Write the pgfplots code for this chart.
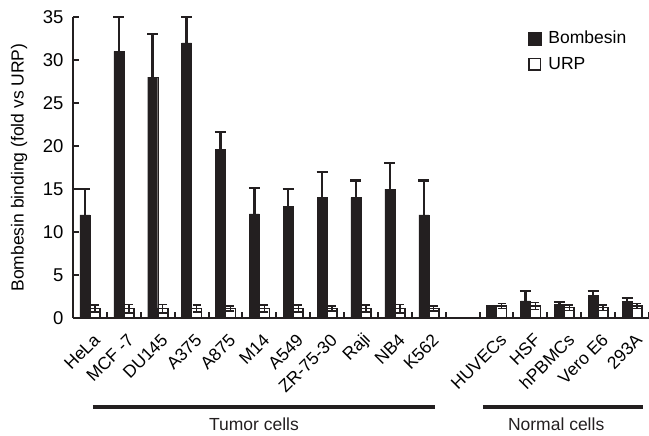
\documentclass[border=0pt]{standalone}
\usepackage{pgfplots}
\pgfplotsset{compat=1.18}
\usepackage{pgfplotstable}
\usepackage{fontspec}
\setmainfont{Liberation Sans}
\definecolor{ink}{RGB}{35,31,32}

\pgfplotsset{
  filledsq/.style={legend image code/.code={\fill[ink] (0pt,-6.5pt) rectangle (13pt,6.5pt); \path[draw=none, fill=none] (0pt,0pt) -- (18pt,0pt);}},
  opensq/.style={legend image code/.code={\draw[ink, line width=1.2pt] (0.6pt,-5.9pt) rectangle (12.4pt,5.9pt); \path[draw=none, fill=none] (0pt,0pt) -- (18pt,0pt);}},
}

\pgfplotstableread{
x b be u ue
0.5 12 3 1.1 0.4
1.5 31 4 1.1 0.5
2.5 28 5 1.1 0.5
3.5 32 3 1.1 0.4
4.5 19.6 2 1.1 0.3
5.5 12.1 3 1.1 0.4
6.5 13 2 1.1 0.4
7.5 14 3 1.1 0.3
8.5 14 2 1.1 0.4
9.5 15 3 1.1 0.5
10.5 12 4 1.1 0.3
12.5 1.3 0.1 1.4 0.3
13.5 2.0 1.1 1.4 0.4
14.5 1.6 0.3 1.2 0.3
15.5 2.6 0.5 1.2 0.3
16.5 1.9 0.4 1.4 0.3
}\datatable

\begin{document}
\begin{tikzpicture}
\useasboundingbox (-73pt,-118pt) rectangle (576pt,318pt);
\begin{axis}[
  at={(0,0)}, anchor=south west,
  scale only axis, width=576pt, height=301pt,
  xmin=0, xmax=17, ymin=0, ymax=35,
  axis x line*=bottom, axis y line*=left,
  axis line style={line width=2pt, ink},
  clip=false,
  font=\fontsize{17.5}{21}\selectfont,
  /pgf/number format/assume math mode=true,
  ytick={0,5,...,35},
  tick align=inside,
  major tick length=6pt,
  minor tick length=6pt,
  tick style={line width=2pt, ink},
  major x tick style={draw=none},
  xtick={0.5,1.5,2.5,3.5,4.5,5.5,6.5,7.5,8.5,9.5,10.5,12.5,13.5,14.5,15.5,16.5},
  xticklabels={HeLa,MCF -7,DU145,A375,A875,M14,A549,ZR-75-30,Raji,NB4,K562,HUVECs,HSF,hPBMCs,Vero E6,293A},
  minor xtick={1,2,...,17},
  xticklabel style={xshift=7pt, yshift=-19pt, rotate=45, anchor=east, inner sep=0pt},
  yticklabel style={font=\fontsize{18.5}{21}\selectfont, xshift=-6pt},
  ylabel={Bombesin binding (fold vs URP)},
  ylabel style={at={(axis description cs:-0.0935,0.5)}, anchor=center},
  legend style={at={(rel axis cs:0.79,0.96)}, anchor=north west, draw=none, fill=none,
    inner sep=0pt, row sep=8pt, font=\fontsize{17.5}{21}\selectfont},
  legend cell align=left,
]
\addplot[ybar, bar width=10pt, bar shift=0pt, draw=ink, fill=ink, forget plot,
  error bars/.cd, y dir=plus, y explicit,
  error bar style={line width=2.5pt, ink},
  error mark options={rotate=90, mark size=5.5pt, line width=2.2pt, ink}]
  table[x expr=\thisrow{x}-0.1476, y=b, y error=be] {\datatable};
\addplot[ybar, bar width=10pt, bar shift=0pt, draw=ink, fill=white, line width=1.6pt, forget plot,
  error bars/.cd, y dir=both, y explicit,
  error bar style={line width=1.4pt, ink},
  error mark options={rotate=90, mark size=4pt, line width=1.4pt, ink}]
  table[x expr=\thisrow{x}+0.1476, y=u, y error=ue] {\datatable};
\addlegendimage{filledsq}
\addlegendentry{Bombesin}
\addlegendimage{opensq}
\addlegendentry{URP}
\draw[line width=4pt, ink] ([yshift=-89pt]axis cs:0.59,0) -- ([yshift=-89pt]axis cs:10.68,0);
\draw[line width=4pt, ink] ([yshift=-89pt]axis cs:12.1,0) -- ([yshift=-89pt]axis cs:16.82,0);
\node[ink] at ([yshift=-106pt]axis cs:5.34,0) {Tumor cells};
\node[ink] at ([yshift=-106pt]axis cs:14.26,0) {Normal cells};
\end{axis}
\end{tikzpicture}
\end{document}
